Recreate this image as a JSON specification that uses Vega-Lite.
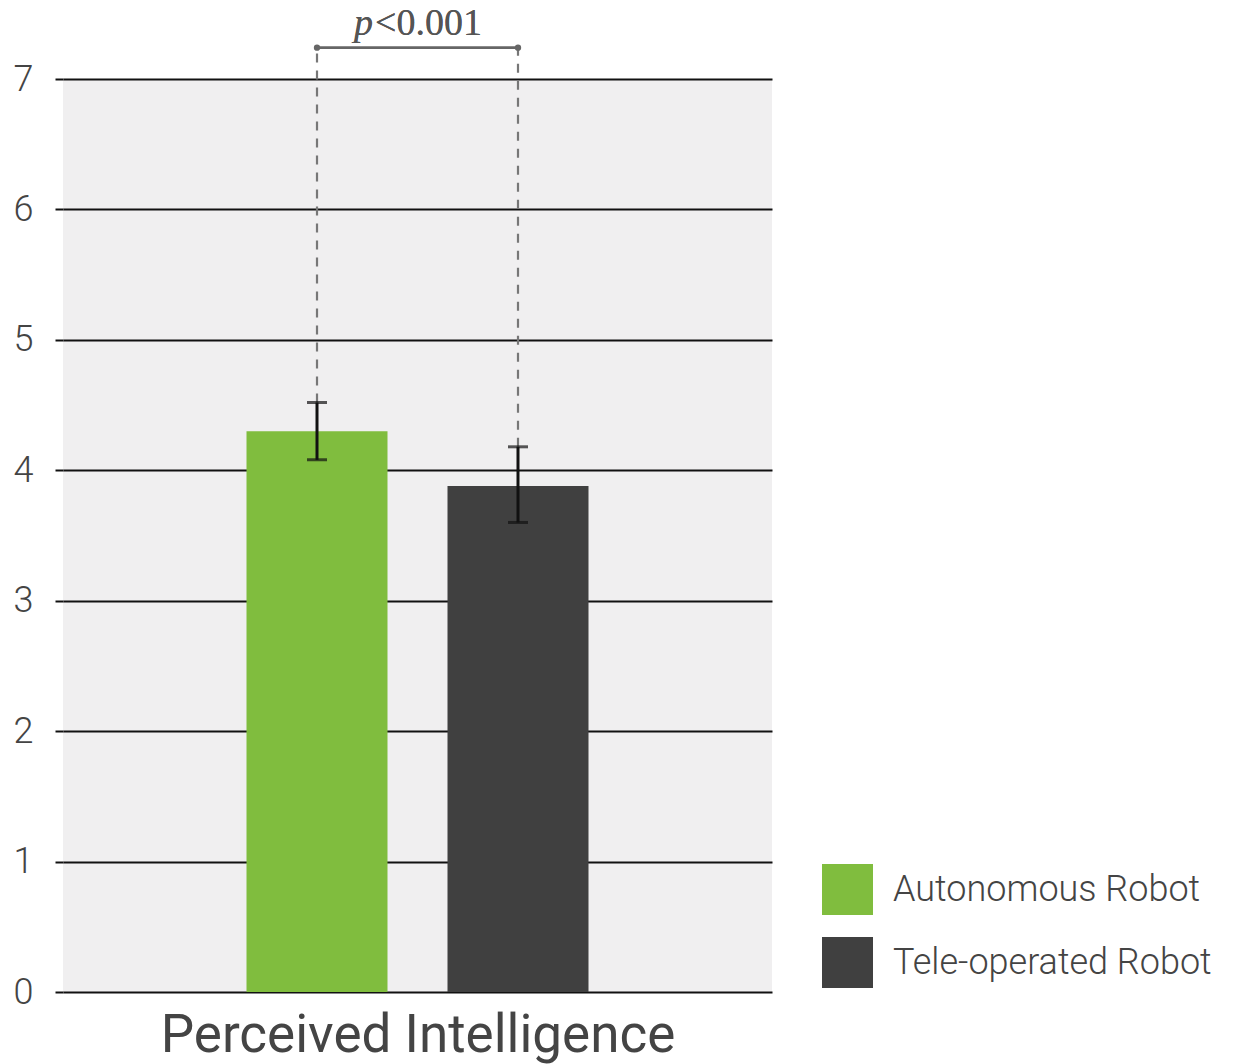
{
  "$schema": "https://vega.github.io/schema/vega-lite/v6.json",
  "autosize": {"type": "none"},
  "width": 709,
  "height": 913,
  "padding": {"left": 63, "top": 79, "right": 470, "bottom": 72},
  "background": "white",
  "config": {
    "view": {"fill": "#f0eff0", "stroke": null},
    "font": "Roboto"
  },
  "data": {
    "values": [
      {"condition": "Autonomous Robot", "mean": 4.3, "lower": 4.08, "upper": 4.52},
      {"condition": "Tele-operated Robot", "mean": 3.88, "lower": 3.6, "upper": 4.18}
    ]
  },
  "layer": [
    {
      "mark": {"type": "bar"},
      "encoding": {
        "x": {
          "field": "condition",
          "type": "nominal",
          "scale": {"paddingInner": 0.2985, "paddingOuter": 0.913},
          "axis": {
            "labels": false,
            "ticks": false,
            "domain": false,
            "title": "Perceived Intelligence",
            "titleFontSize": 53,
            "titleFontWeight": "normal",
            "titleColor": "#444444",
            "titlePadding": 17
          }
        },
        "y": {
          "field": "mean",
          "type": "quantitative",
          "scale": {"domain": [0, 7], "nice": false},
          "axis": {
            "values": [0, 1, 2, 3, 4, 5, 6, 7],
            "format": "d",
            "title": null,
            "grid": true,
            "gridColor": "#111111",
            "gridWidth": 2,
            "gridOpacity": 1,
            "domain": false,
            "ticks": true,
            "tickSize": 8,
            "tickColor": "#111111",
            "tickWidth": 2,
            "labelFontSize": 36,
            "labelFontWeight": 300,
            "labelColor": "#444444",
            "labelPadding": 22
          }
        },
        "color": {
          "field": "condition",
          "type": "nominal",
          "scale": {"domain": ["Autonomous Robot", "Tele-operated Robot"], "range": ["#80bd3e", "#404040"]},
          "legend": {
            "title": null,
            "orient": "none",
            "legendX": 759,
            "legendY": 785,
            "padding": 0,
            "symbolType": "square",
            "symbolSize": 2601,
            "symbolStrokeWidth": 0,
            "symbolOpacity": 1,
            "labelFontSize": 36,
            "labelFontWeight": 300,
            "labelColor": "#444444",
            "labelOffset": 20,
            "rowPadding": 22,
            "labelLimit": 500
          }
        }
      }
    },
    {
      "mark": {"type": "rule", "color": "#777777", "strokeWidth": 2.2, "strokeDash": [9, 8]},
      "encoding": {
        "x": {"field": "condition", "type": "nominal"},
        "y": {"field": "upper", "type": "quantitative"},
        "y2": {"datum": 7.24}
      }
    },
    {
      "mark": {"type": "errorbar", "ticks": {"size": 20, "thickness": 3, "color": "#111111"}, "rule": {"strokeWidth": 3, "color": "#111111"}},
      "encoding": {
        "x": {"field": "condition", "type": "nominal"},
        "y": {"field": "lower", "type": "quantitative"},
        "y2": {"field": "upper"}
      }
    },
    {
      "mark": {"type": "rule", "color": "#666666", "strokeWidth": 2.5},
      "encoding": {
        "x": {"datum": "Autonomous Robot"},
        "x2": {"datum": "Tele-operated Robot"},
        "y": {"datum": 7.24}
      }
    },
    {
      "mark": {"type": "point", "filled": true, "color": "#666666", "size": 40, "opacity": 1},
      "encoding": {
        "x": {"field": "condition", "type": "nominal"},
        "y": {"datum": 7.24}
      }
    },
    {
      "mark": {"type": "text", "font": "Liberation Serif", "fontStyle": "italic", "fontSize": 38, "color": "#555555", "align": "right", "baseline": "alphabetic", "dx": 56},
      "encoding": {
        "x": {"datum": "Autonomous Robot"},
        "y": {"datum": 7.34},
        "text": {"value": "p"}
      }
    },
    {
      "mark": {"type": "text", "font": "Liberation Serif", "fontSize": 38, "color": "#555555", "align": "left", "baseline": "alphabetic", "dx": 58},
      "encoding": {
        "x": {"datum": "Autonomous Robot"},
        "y": {"datum": 7.34},
        "text": {"value": "<0.001"}
      }
    }
  ]
}
